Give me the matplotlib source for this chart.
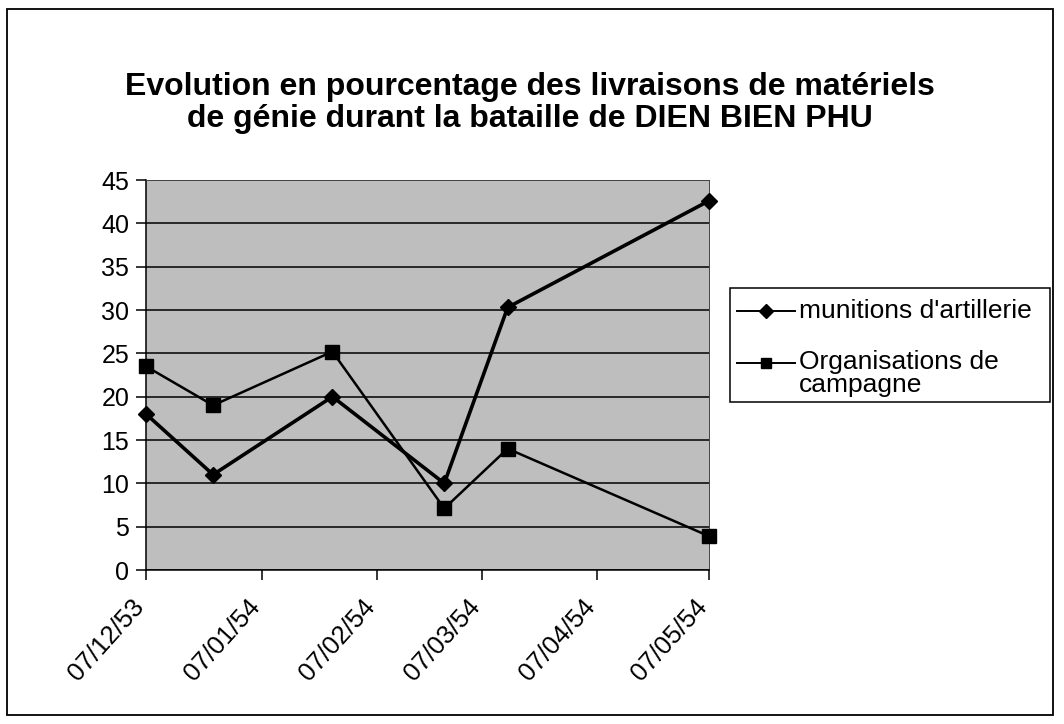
import matplotlib
matplotlib.use("Agg")
import matplotlib.pyplot as plt
import matplotlib.transforms as mtransforms
from matplotlib.patches import Rectangle
from matplotlib.lines import Line2D
import datetime as dt

plt.rcParams['font.family'] = ['Liberation Sans', 'DejaVu Sans']

# data
dates = [dt.date(1953, 12, 7), dt.date(1953, 12, 25), dt.date(1954, 1, 26),
         dt.date(1954, 2, 25), dt.date(1954, 3, 14), dt.date(1954, 5, 7)]
munitions = [18, 11, 20, 10, 30.3, 42.6]
organisations = [23.5, 19, 25.2, 7.1, 14, 3.9]
tick_dates = [dt.date(1953, 12, 7), dt.date(1954, 1, 7), dt.date(1954, 2, 7),
              dt.date(1954, 3, 7), dt.date(1954, 4, 7), dt.date(1954, 5, 7)]
tick_labels = ["07/12/53", "07/01/54", "07/02/54", "07/03/54", "07/04/54", "07/05/54"]
series_names = ["munitions d'artillerie", "Organisations de\ncampagne"]
title = ("Evolution en pourcentage des livraisons de matériels\n"
         "de génie durant la bataille de DIEN BIEN PHU")

W, H = 1064, 724
fig = plt.figure(figsize=(W / 100, H / 100), dpi=100)
fig.patch.set_facecolor("white")

def fx(px):
    return px / W

def fy(py):
    return 1 - py / H

# outer chart frame
fig.add_artist(Rectangle((fx(7), fy(715)), fx(1053) - fx(7), fy(9) - fy(715),
                         transform=fig.transFigure, fill=False,
                         edgecolor="black", linewidth=1.3))

ax = fig.add_axes([fx(146), fy(570), fx(709) - fx(146), fy(180) - fy(570)])
ax.set_facecolor("#bebebe")

ax.plot(dates, munitions, color="black", linewidth=2.6, marker="D",
        markersize=8.5, clip_on=False, zorder=3)
ax.plot(dates, organisations, color="black", linewidth=1.8, marker="s",
        markersize=10, clip_on=False, zorder=3)

ax.set_ylim(0, 45)
ax.set_yticks(range(0, 46, 5))
ax.set_xlim(dt.date(1953, 12, 7), dt.date(1954, 5, 7))
ax.set_xticks(tick_dates)
ax.set_xticklabels(tick_labels, rotation=48, ha="right", va="top")
ax.grid(axis="y", color="black", linewidth=1.1)
ax.set_axisbelow(True)

for s in ["top", "right"]:
    ax.spines[s].set_color("#444444")
    ax.spines[s].set_linewidth(0.7)
for s in ["left", "bottom"]:
    ax.spines[s].set_linewidth(1.1)

ax.tick_params(axis="y", labelsize=18, length=7, width=1.1, pad=5)
ax.tick_params(axis="x", labelsize=18.5, length=7, width=1.1, pad=11)
shift = mtransforms.ScaledTranslation(3 / 100, 0, fig.dpi_scale_trans)
for lab in ax.get_xticklabels():
    lab.set_transform(lab.get_transform() + shift)

fig.text(fx(530), fy(103), title, ha="center", va="center",
         fontsize=23, fontweight="bold", linespacing=1.12)

# legend, drawn the way the spreadsheet lays it out
fig.add_artist(Rectangle((fx(730), fy(402)), fx(1050) - fx(730), fy(288) - fy(402),
                         transform=fig.transFigure, fill=False,
                         edgecolor="black", linewidth=1.1))
handles = [("D", 7, 311), ("s", 7.5, 363)]
for (mk, ms, yy), name in zip(handles, series_names):
    fig.add_artist(Line2D([fx(737), fx(795)], [fy(yy), fy(yy)],
                          transform=fig.transFigure, color="black",
                          linewidth=1.4))
    fig.add_artist(Line2D([fx(766)], [fy(yy)], transform=fig.transFigure,
                          color="black", marker=mk, markersize=ms,
                          linestyle="none"))
    fig.text(fx(799), fy(yy), name, ha="left", va="top" if "\n" in name else "center",
             fontsize=19, linespacing=0.95,
             transform=fig.transFigure + mtransforms.ScaledTranslation(
                 0, 0.135 if "\n" in name else 0, fig.dpi_scale_trans))

fig.savefig("out.png", dpi=100)
